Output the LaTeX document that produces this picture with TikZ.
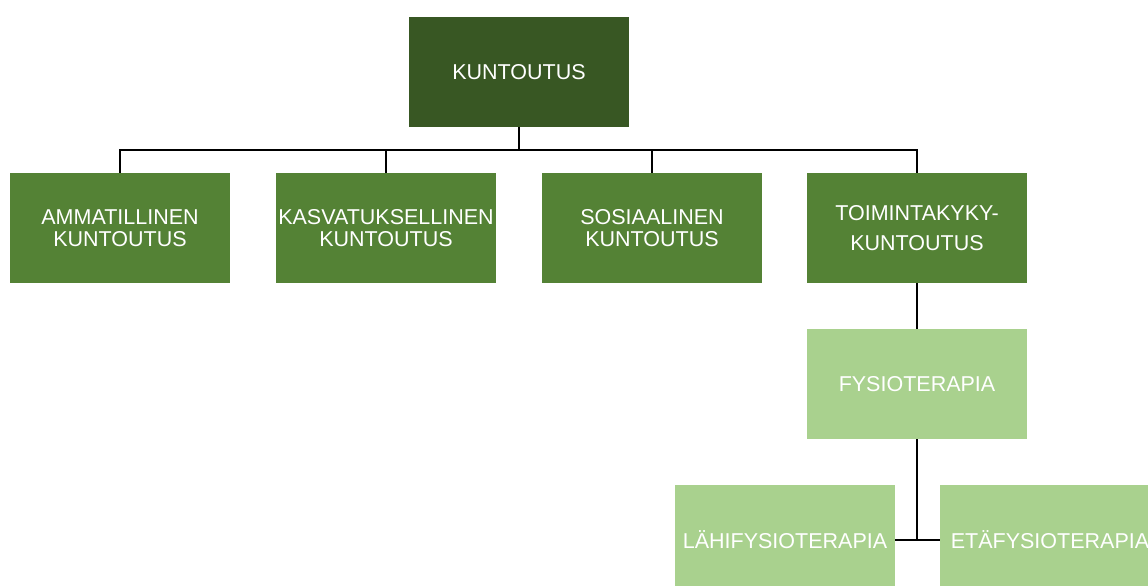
\documentclass[tikz,border=0pt]{standalone}
\usepackage{fontspec}
\setmainfont{Liberation Sans}
\definecolor{darkg}{HTML}{385723}
\definecolor{midg}{HTML}{548235}
\definecolor{lightg}{HTML}{A9D18E}
\begin{document}
\begin{tikzpicture}[x=1pt,y=1pt,
  box/.style={rectangle, minimum width=220pt, minimum height=110pt, inner sep=0pt,
    align=center, text=white, font=\fontsize{21.5}{22}\selectfont},
  conn/.style={draw=black, line width=1.3pt}]
\useasboundingbox (0,0) rectangle (1148,-586);
\node[box, fill=darkg] (k) at (519,-72) {KUNTOUTUS};
\node[box, fill=midg] (a) at (120,-228) {AMMATILLINEN\\KUNTOUTUS};
\node[box, fill=midg] (b) at (386,-228) {KASVATUKSELLINEN\\KUNTOUTUS};
\node[box, fill=midg] (c) at (652,-228) {SOSIAALINEN\\KUNTOUTUS};
\node[box, fill=midg, font=\fontsize{21.5}{30}\selectfont] (t) at (917,-228) {TOIMINTAKYKY-\\KUNTOUTUS};
\node[box, fill=lightg] (f) at (917,-384) {FYSIOTERAPIA};
\node[box, fill=lightg] (l) at (785,-540) {LÄHIFYSIOTERAPIA};
\node[box, fill=lightg] (e) at (1050,-540) {ETÄFYSIOTERAPIA};
\coordinate (bus) at (519,-150);
\draw[conn] (k.south) -- (k.south |- bus) -| (a.north);
\draw[conn] (k.south |- bus) -| (b.north);
\draw[conn] (k.south |- bus) -| (c.north);
\draw[conn] (k.south |- bus) -| (t.north);
\draw[conn] (t.south) -- (f.north);
\draw[conn] (f.south) -- (f.south |- l.east);
\draw[conn] (l.east) -- (e.west);
\end{tikzpicture}
\end{document}
